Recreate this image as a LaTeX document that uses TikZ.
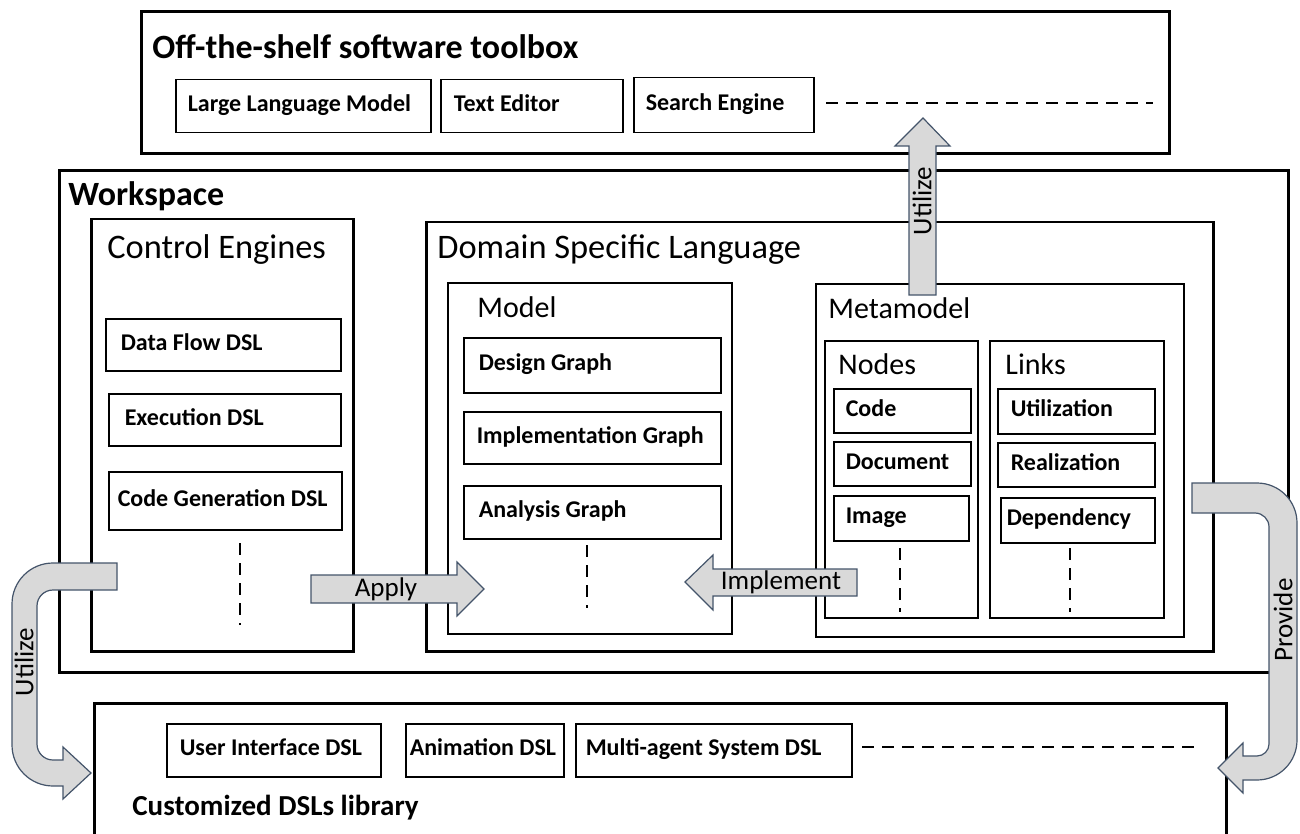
\documentclass[tikz,border=0pt]{standalone}
\usepackage{fontspec}
\setmainfont{Carlito}
\usetikzlibrary{positioning}
\definecolor{arrowfill}{RGB}{217,217,217}
\definecolor{arrowline}{RGB}{68,84,106}

\begin{document}
\begin{tikzpicture}[x=0.5pt, y=-0.5pt,
    frame/.style = {draw, line width=1.5pt, anchor=north west, inner sep=0pt},
    group/.style = {draw, line width=1pt, anchor=north west, inner sep=0pt},
    tool/.style = {draw, line width=0.75pt, anchor=north west, align=flush left, inner ysep=0pt, text height=1.6ex, text depth=0.5ex, font=\bfseries\fontsize{12}{14}\selectfont},
    bigtitle/.style = {anchor=west, inner sep=0pt, font=\bfseries\fontsize{17}{20}\selectfont},
    title/.style = {anchor=west, inner sep=0pt, font=\fontsize{17.2}{20}\selectfont},
    subtitle/.style = {anchor=west, inner sep=0pt, font=\fontsize{15}{18}\selectfont},
    dots/.style = {line width=1.25pt, dash pattern=on 6pt off 4pt},
    block/.style = {draw=arrowline, fill=arrowfill, line width=0.6pt},
    blocktext/.style = {inner sep=0pt, font=\fontsize{13.5}{16}\selectfont}]
    \useasboundingbox (0,0) rectangle (1300,834);
    \clip (0,0) rectangle (1300,834);

    % toolbox on top
    \node[frame, minimum width=514pt, minimum height=71pt] (toolbox) at (140,10) {};
    \node[bigtitle] (tbtitle) at (152,47) {Off-the-shelf software toolbox};
    \node[tool, inner xsep=6pt, text width=115.5pt, minimum height=26.5pt] (llm) at (175,79) {Large Language Model};
    \node[tool, inner xsep=6.5pt, text width=78pt, minimum height=26.5pt] (ted) at (440,79) {Text Editor};
    \node[tool, inner xsep=6pt, text width=78pt, minimum height=27.5pt] (seng) at (633,77) {Search Engine};
    \draw[dots] (826,103) -- (1153,103);

    % workspace
    \node[frame, minimum width=614.5pt, minimum height=251pt] (workspace) at (58,169) {};
    \node[bigtitle] (wstitle) at (68,196) {Workspace};

    \node[frame, line width=1.25pt, minimum width=131pt, minimum height=216pt] (ctrl) at (90,218) {};
    \node[title] (cetitle) at (107,250) {Control Engines};
    \node[tool, inner xsep=7.5pt, text width=102.5pt, minimum height=26pt] (dfd) at (105,318) {Data Flow DSL};
    \node[tool, inner xsep=8pt, text width=100pt, minimum height=26pt] (exd) at (108,393) {Execution DSL};
    \node[tool, inner xsep=4.5pt, text width=107.5pt, minimum height=29pt] (cgd) at (108,471) {Code Generation DSL};
    \draw[dots] (240,543) -- (240,625);

    \node[frame, line width=1.25pt, minimum width=393.5pt, minimum height=214.5pt] (dsl) at (425,221) {};
    \node[title] (dsltitle) at (437,250) {Domain Specific Language};

    \node[group, minimum width=142pt, minimum height=175.5pt] (model) at (447,282) {};
    \node[subtitle] (mtitle) at (477,307) {Model};
    \node[tool, inner xsep=7.5pt, text width=113.5pt, minimum height=27.5pt] (dg) at (463,337) {Design Graph};
    \node[tool, inner xsep=6.5pt, text width=115.5pt, minimum height=26pt] (ig) at (463,411) {Implementation Graph};
    \node[tool, inner xsep=7.5pt, text width=113.5pt, minimum height=26.5pt] (ag) at (463,485) {Analysis Graph};
    \draw[dots] (587,545) -- (587,608);

    \node[group, minimum width=184pt, minimum height=176.5pt] (meta) at (815,283) {};
    \node[subtitle] (mmtitle) at (828,308) {Metamodel};

    \node[group, minimum width=76.5pt, minimum height=138.5pt] (nodes) at (824,340) {};
    \node[subtitle] (ntitle) at (838,364) {Nodes};
    \node[tool, inner xsep=6pt, text width=56.5pt, minimum height=22pt] (code) at (833,388) {Code};
    \node[tool, inner xsep=6pt, text width=56.5pt, minimum height=22pt] (doc) at (833,441) {Document};
    \node[tool, inner xsep=6pt, text width=55.5pt, minimum height=22.5pt] (img) at (833,495) {Image};
    \draw[dots] (900,548) -- (900,612);

    \node[group, minimum width=87pt, minimum height=138.5pt] (links) at (989,340) {};
    \node[subtitle] (ltitle) at (1005,364) {Links};
    \node[tool, inner xsep=6.5pt, text width=65.5pt, minimum height=22.5pt] (util) at (997,388) {Utilization};
    \node[tool, inner xsep=6.5pt, text width=65.5pt, minimum height=22pt] (real) at (997,442) {Realization};
    \node[tool, inner xsep=3pt, text width=71pt, minimum height=22.5pt] (dep) at (1000,497) {Dependency};
    \draw[dots] (1070,548) -- (1070,612);

    % library at the bottom
    \node[frame, minimum width=566pt, minimum height=80pt] (library) at (93,702) {};
    \node[bigtitle, font=\bfseries\fontsize{14.5}{17}\selectfont] (libtitle) at (132,808) {Customized DSLs library};
    \node[tool, inner xsep=6.5pt, text width=94pt, minimum height=26.5pt] (uid) at (166,723) {User Interface DSL};
    \node[tool, inner xsep=2pt, text width=75pt, minimum height=26.5pt] (ani) at (405,723) {Animation DSL};
    \node[tool, inner xsep=5pt, text width=128pt, minimum height=26.5pt] (mas) at (575,723) {Multi-agent System DSL};
    \draw[dots] (862,747) -- (1196,747);

    % block arrows
    \draw[block] (909,295) -- (909,146) -- (895,146) -- (923,118) -- (950,146) -- (936,146) -- (936,295) -- cycle;
    \node[blocktext, rotate=90] (utiltop) at (922,201) {Utilize};

    \draw[block] (311,575) -- (457,575) -- (457,562) -- (484,589) -- (457,616) -- (457,603) -- (311,603) -- cycle;
    \node[blocktext] (apply) at (386,589) {Apply};

    \draw[block] (857,569) -- (713,569) -- (713,555) -- (685,582) -- (713,610) -- (713,596) -- (857,596) -- cycle;
    \node[blocktext] (implement) at (781,582) {Implement};

    \draw[block] (117,563) -- (53,563) arc[start angle=270, end angle=180, radius=41] -- (12,745)
        arc[start angle=180, end angle=90, radius=41] -- (63,786) -- (63,799) -- (91,773) -- (63,747) -- (63,760) -- (53,760)
        arc[start angle=90, end angle=180, radius=16] -- (37,606) arc[start angle=180, end angle=270, radius=16] -- (117,590) -- cycle;
    \node[blocktext, rotate=90] (utilleft) at (24,662) {Utilize};

    \draw[block] (1192,483) -- (1257,483) arc[start angle=270, end angle=360, radius=40] -- (1297,740)
        arc[start angle=0, end angle=90, radius=40] -- (1243,780) -- (1243,793) -- (1218,768) -- (1243,743) -- (1243,756) -- (1257,756)
        arc[start angle=90, end angle=0, radius=12] -- (1269,527) arc[start angle=0, end angle=-90, radius=14] -- (1192,513) -- cycle;
    \node[blocktext, rotate=90] (provide) at (1283,620) {Provide};
\end{tikzpicture}
\end{document}
